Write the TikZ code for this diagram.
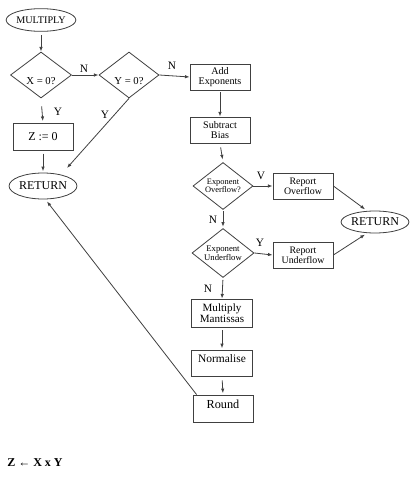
\documentclass[tikz,border=0pt]{standalone}
\usepackage{fontspec}
\setmainfont{Liberation Serif}
\usetikzlibrary{shapes.geometric,arrows.meta}
\begin{document}
\begin{tikzpicture}[x=0.75pt,y=-0.75pt,
  lc/.style={draw=black!75, line width=0.6pt},
  box/.style={lc, rectangle, minimum width=45pt, minimum height=19.5pt, inner sep=0pt, align=center},
  ell/.style={lc, ellipse, inner sep=0pt},
  dia/.style={lc, diamond, inner sep=0pt, shape aspect=1.3, align=center},
  arr/.style={lc, -{Latex[length=3.5pt,width=2.6pt]}},
  lab/.style={font=\fontsize{8.5}{9}\selectfont, inner sep=0pt},
  f/.style={font=\fontsize{#1}{#1}\selectfont}
]
\useasboundingbox[fill=white] (0,0) rectangle (411,485);

% nodes
\node[ell, f=7.6, minimum width=46.5pt, minimum height=17pt] (mult) at (41,20) {MULTIPLY};
\node[dia, f=8, minimum width=45.75pt, minimum height=34.5pt, text height=14pt, text depth=0pt] (xq) at (41,75) {X = 0?};
\node[dia, f=8, minimum width=45pt, minimum height=34.5pt, text height=14pt, text depth=0pt] (yq) at (129,75) {Y = 0?};
\node[box, f=9, minimum width=45pt, minimum height=20.25pt] (z) at (43,137) {Z := 0};
\node[ell, f=9, minimum width=45pt, minimum height=19.5pt] (ret1) at (43,186) {RETURN};

\node[box, f=7.6] (add) at (220,77) {Add\\Exponents};
\node[box, f=7.6] (sub) at (220,130) {Subtract\\Bias};
\node[dia, f=6.3, minimum width=45pt, minimum height=35.25pt] (ovf) at (223,186) {Exponent\\Overflow?};
\node[box, f=7.4] (rovf) at (303,186) {Report\\Overflow};
\node[ell, f=9, minimum width=42pt, minimum height=16.5pt] (ret2) at (375,222) {RETURN};
\node[dia, f=6.5, minimum width=46.5pt, minimum height=36.75pt] (udf) at (223,253) {Exponent\\Underflow};
\node[box, f=7.4] (rudf) at (303,255) {Report\\Underflow};
\node[box, f=8.3, minimum width=45.75pt, minimum height=21pt] (mm) at (222,313) {Multiply\\Mantissas};
\node[box, f=8.6, minimum width=45.75pt, text height=9pt, text depth=10.5pt] (norm) at (222,363) {Normalise};
\node[box, f=9.2, minimum width=45pt, text height=9.75pt, text depth=10.5pt] (round) at (223,408.5) {Round};

\node[font=\bfseries\fontsize{9}{10}\selectfont, anchor=west, inner sep=0pt] (eq) at (7,463) {Z ← X x Y};

% connectors
\coordinate (retin) at (67,168);
\draw[arr, shorten <=2.5pt] (mult) -- (xq);
\draw[arr] (xq.east) -- (yq.west);
\node[lab] (n1) at (84,69) {N};
\draw[arr] (yq.east) -- (add.west);
\node[lab] (n2) at (172,66) {N};
\draw[arr, shorten <=6pt, shorten >=1.5pt] (xq.south) -- (z.north);
\node[lab] (y1) at (58,112) {Y};
\draw[arr, shorten <=2pt, shorten >=1pt] (z.south) -- (ret1.north);
\draw[arr] (yq.south) -- (retin);
\node[lab] (y2) at (105,115) {Y};

\draw[arr, shorten <=1.5pt] (add.south) -- (sub.north);
\draw[arr, shorten <=3pt, shorten >=2pt] (sub.south) -- (ovf.north);
\draw[arr] (ovf.east) -- (rovf.west);
\node[lab] (v1) at (261,176) {V};
\draw[arr, shorten >=2pt] (rovf.east) -- (ret2.125);
\draw[arr, shorten <=1pt, shorten >=1pt] (ovf.south) -- (udf.north);
\node[lab] (n3) at (213,220) {N};
\draw[arr] (udf.east) -- (rudf.west);
\node[lab] (y3) at (260,243) {Y};
\draw[arr, shorten >=2pt] (rudf.east) -- (ret2.235);
\draw[arr, shorten <=1.5pt] (udf.south) -- (mm.north);
\node[lab] (n4) at (208,289) {N};
\draw[arr, shorten <=2pt, shorten >=1pt] (mm.south) -- (norm.north);
\draw[arr, shorten <=3pt, shorten >=1pt] (norm.south) -- (round.north);
\draw[arr, shorten >=2pt] ([xshift=3pt]round.north west) -- (ret1.280);
\end{tikzpicture}
\end{document}
